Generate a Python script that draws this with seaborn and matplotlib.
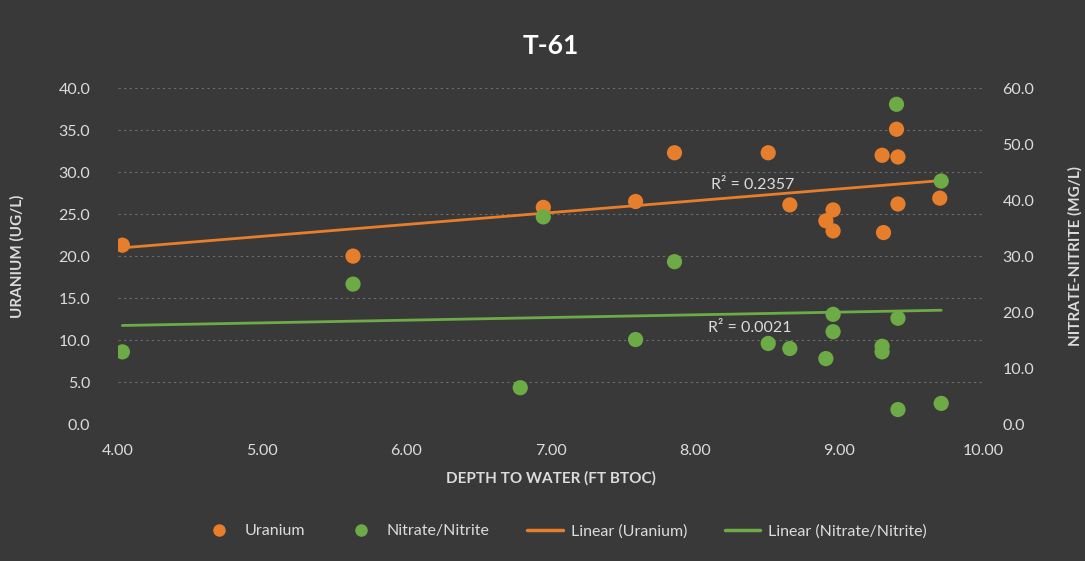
import numpy as np
import pandas as pd
import matplotlib
matplotlib.use("Agg")
import matplotlib.pyplot as plt
from matplotlib.lines import Line2D
import seaborn as sns

# === Data ===
u_depth = [4.03, 5.63, 6.95, 7.59, 7.86, 8.51, 8.66, 8.91, 8.96, 8.96, 9.30, 9.31, 9.40, 9.41, 9.41, 9.70]
uranium = [21.3, 20.0, 25.8, 26.5, 32.3, 32.3, 26.1, 24.2, 25.5, 23.0, 32.0, 22.8, 35.1, 31.8, 26.2, 26.9]

n_depth = [4.03, 5.63, 6.79, 6.95, 7.59, 7.86, 8.51, 8.66, 8.91, 8.96, 8.96, 9.30, 9.30, 9.40, 9.41, 9.41, 9.71, 9.71]
nitrate = [12.9, 25.0, 6.5, 37.0, 15.1, 29.0, 14.4, 13.5, 11.7, 19.6, 16.5, 13.9, 12.9, 57.1, 18.9, 2.6, 43.4, 3.7]

x_ticks = [4, 5, 6, 7, 8, 9, 10]
u_ticks = [0, 5, 10, 15, 20, 25, 30, 35, 40]
n_ticks = [0, 10, 20, 30, 40, 50, 60]

r2_uranium = "R² = 0.2357"
r2_nitrate = "R² = 0.0021"

df_u = pd.DataFrame({"depth": u_depth, "uranium": uranium})
df_n = pd.DataFrame({"depth": n_depth, "nitrate": nitrate})

# === Style ===
bg = "#3a3939"
txt = "#dcdcdc"
orange = "#e67e2c"
green = "#6cab45"

sns.set_style("dark")
plt.rcParams["font.family"] = ["Lato", "DejaVu Sans"]

fig = plt.figure(figsize=(10.85, 5.61), dpi=100, facecolor=bg)
ax = fig.add_axes([0.1088, 0.244, 0.7972, 0.599])
ax.set_facecolor(bg)
ax2 = ax.twinx()

# === Uranium on left axis ===
sns.scatterplot(data=df_u, x="depth", y="uranium", ax=ax, color=orange, s=120,
                edgecolor="none", zorder=3)
sns.regplot(data=df_u, x="depth", y="uranium", ax=ax, scatter=False, ci=None,
            truncate=True, color=orange, line_kws={"lw": 2, "zorder": 2})

# === Nitrate/Nitrite on right axis ===
sns.scatterplot(data=df_n, x="depth", y="nitrate", ax=ax2, color=green, s=120,
                edgecolor="none", zorder=3)
sns.regplot(data=df_n, x="depth", y="nitrate", ax=ax2, scatter=False, ci=None,
            truncate=True, color=green, line_kws={"lw": 2, "zorder": 2})

ax.set_xlim(4, 10)
ax.set_ylim(0, 40)
ax2.set_ylim(0, 60)
ax.set_xticks(x_ticks)
ax.set_xticklabels([f"{v:.2f}" for v in x_ticks])
ax.set_yticks(u_ticks)
ax.set_yticklabels([f"{v:.1f}" for v in u_ticks])
ax2.set_yticks(n_ticks)
ax2.set_yticklabels([f"{v:.1f}" for v in n_ticks])

ax.grid(axis="y", color="#6e6e6e", linestyle=(0, (2, 3)), lw=0.8)
ax.grid(axis="x", visible=False)
ax2.grid(False)
for a in (ax, ax2):
    for s in a.spines.values():
        s.set_visible(False)
    a.tick_params(length=0, colors=txt, labelsize=11.5)
ax.tick_params(axis="x", pad=14)
ax.tick_params(axis="y", pad=20)
ax2.tick_params(axis="y", pad=14)

ax.set_xlabel("DEPTH TO WATER (FT BTOC)", color=txt, fontsize=11, fontweight="bold", labelpad=10)
ax.set_ylabel("URANIUM (UG/L)", color=txt, fontsize=11, fontweight="bold", labelpad=24)
ax2.set_ylabel("NITRATE-NITRITE (MG/L)", color=txt, fontsize=11, fontweight="bold", labelpad=24)

ax.text(8.40, 28.5, r2_uranium, color=txt, fontsize=11.5, ha="center", va="center", zorder=4)
ax.text(8.38, 11.4, r2_nitrate, color=txt, fontsize=11.5, ha="center", va="center", zorder=4)

fig.text(0.508, 0.918, "T-61", color="white", fontsize=19, fontweight="bold", ha="center", va="center")

# === Legend ===
handles = [
    Line2D([], [], marker="o", ls="none", color=orange, markersize=8),
    Line2D([], [], marker="o", ls="none", color=green, markersize=8),
    Line2D([], [], color=orange, lw=2.5),
    Line2D([], [], color=green, lw=2.5),
]
labels = ["Uranium", "Nitrate/Nitrite", "Linear (Uranium)", "Linear (Nitrate/Nitrite)"]
leg = fig.legend(handles, labels, loc="center", bbox_to_anchor=(0.52, 0.053), ncol=4,
                 frameon=False, fontsize=11.5, columnspacing=2.4, handlelength=2.2,
                 handletextpad=0.5)
for t in leg.get_texts():
    t.set_color(txt)

fig.savefig("out.png", dpi=100, facecolor=bg)
